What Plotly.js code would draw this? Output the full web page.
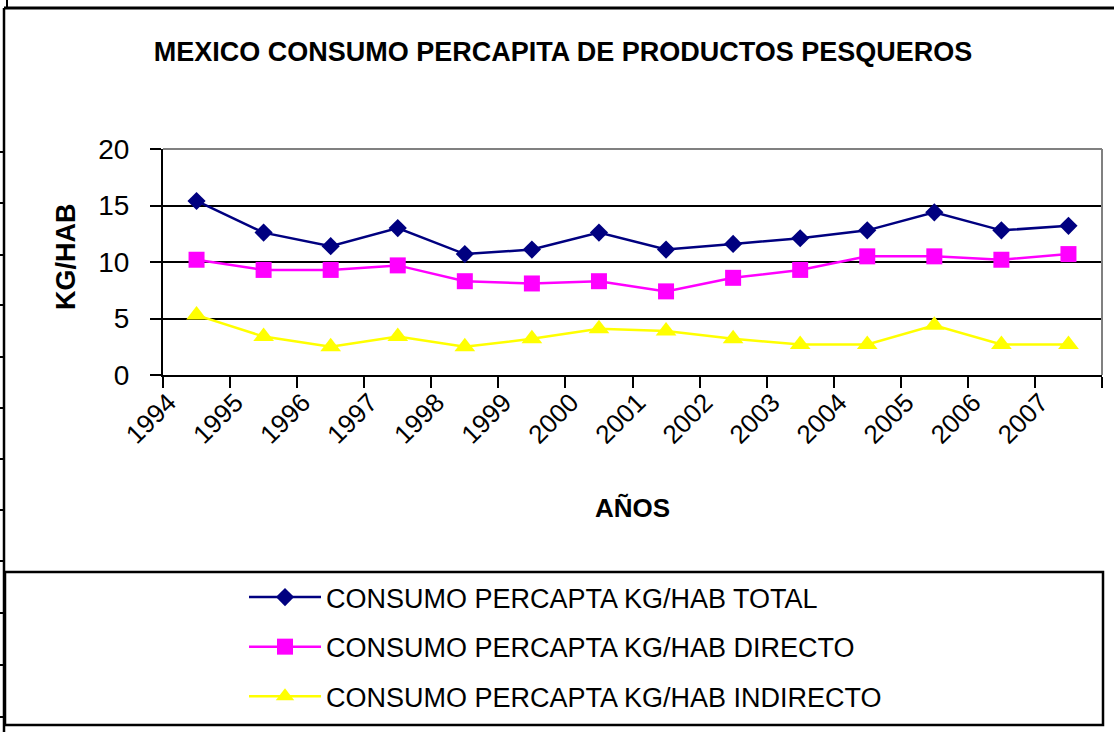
<!DOCTYPE html>
<html>
<head>
<meta charset="utf-8">
<script src="https://cdn.plot.ly/plotly-3.0.1.min.js"></script>
<style>html,body{margin:0;padding:0;background:#fff;}#chart{width:1114px;height:732px;}</style>
</head>
<body>
<div id="chart"></div>
<script>
const years = ['1994','1995','1996','1997','1998','1999','2000','2001','2002','2003','2004','2005','2006','2007'];
const total = [15.4, 12.6, 11.4, 13.0, 10.7, 11.1, 12.6, 11.1, 11.6, 12.1, 12.8, 14.4, 12.8, 13.2];
const directo = [10.2, 9.3, 9.3, 9.7, 8.3, 8.1, 8.3, 7.4, 8.6, 9.3, 10.5, 10.5, 10.2, 10.7];
const indirecto = [5.3, 3.4, 2.5, 3.4, 2.5, 3.2, 4.1, 3.9, 3.2, 2.7, 2.7, 4.4, 2.7, 2.7];
const yTicks = [0, 5, 10, 15, 20];
const seriesNames = ['CONSUMO PERCAPTA KG/HAB TOTAL', 'CONSUMO PERCAPTA KG/HAB DIRECTO', 'CONSUMO PERCAPTA KG/HAB INDIRECTO'];
const chartTitle = 'MEXICO CONSUMO PERCAPITA DE PRODUCTOS PESQUEROS';
const xTitle = 'AÑOS';
const yTitle = 'KG/HAB';

const FONT = 'Liberation Sans, Arial, sans-serif';

const traces = [
  {x: years, y: total, name: seriesNames[0], legendgroup: 'a', type: 'scatter', mode: 'lines+markers',
   line: {color: '#000080', width: 2.5}, marker: {symbol: 'diamond', size: 14, color: '#000080'}},
  {x: years, y: directo, name: seriesNames[1], legendgroup: 'b', type: 'scatter', mode: 'lines+markers',
   line: {color: '#FF00FF', width: 2.5}, marker: {symbol: 'square', size: 16, color: '#FF00FF'}},
  {x: years, y: indirecto, name: seriesNames[2], legendgroup: 'c', type: 'scatter', mode: 'lines+markers',
   line: {color: '#FFFF00', width: 2.5}, marker: {symbol: 'triangle-up', size: 18, color: '#FFFF00'}}
];

// plot area: x 163..1102, y 149..375
const L = 163, R = 1102, T = 149, B = 375;
const W = R - L, H = B - T;
const px = v => (v - L) / W;
const py = v => (B - v) / H;

const shapes = [
  {type: 'line', xref: 'paper', yref: 'paper', x0: 0, x1: 1, y0: 1, y1: 1, line: {color: '#808080', width: 2}},
  {type: 'line', xref: 'paper', yref: 'paper', x0: 1, x1: 1, y0: 0, y1: 1, line: {color: '#808080', width: 2}},
  {type: 'line', xref: 'paper', yref: 'paper', x0: px(4), x1: px(1114), y0: py(8), y1: py(8), line: {color: '#000', width: 3}},
  {type: 'line', xref: 'paper', yref: 'paper', x0: px(4), x1: px(4), y0: py(8), y1: py(732), line: {color: '#000', width: 2.5}},
  {type: 'line', xref: 'paper', yref: 'paper', x0: px(7), x1: px(7), y0: py(0), y1: py(8), line: {color: '#000', width: 2}},
  {type: 'rect', xref: 'paper', yref: 'paper', x0: px(5), x1: px(1103), y0: py(725), y1: py(572), line: {color: '#000', width: 2.5}, fillcolor: 'rgba(0,0,0,0)'}
];
[152, 203, 255, 305, 357, 408, 459, 510, 561, 613, 665, 717].forEach(v => {
  shapes.push({type: 'line', xref: 'paper', yref: 'paper', x0: px(0), x1: px(4), y0: py(v), y1: py(v), line: {color: '#000', width: 2}});
});

const layout = {
  width: 1114, height: 732,
  margin: {l: L, r: 1114 - R, t: T, b: 732 - B, pad: 0, autoexpand: false},
  paper_bgcolor: '#fff', plot_bgcolor: '#fff',
  font: {family: FONT, color: '#000'},
  title: {text: chartTitle, font: {family: FONT, size: 27, weight: 'bold', color: '#000'},
          x: 563 / 1114, xanchor: 'center', xref: 'container', y: 1 - 52 / 732, yanchor: 'middle', yref: 'container'},
  xaxis: {
    type: 'category', range: [-0.5, 13.5], fixedrange: true,
    tickson: 'boundaries', ticks: 'outside', ticklen: 11, tickwidth: 2, tickcolor: '#000',
    showline: true, linecolor: '#000', linewidth: 2, showgrid: false, zeroline: false,
    tickangle: -45, ticklabelshift: -28,
    tickfont: {family: FONT, size: 26, color: '#000'},
    title: {text: xTitle, font: {family: FONT, size: 26, weight: 'bold', color: '#000'}, standoff: 50}
  },
  yaxis: {
    range: [0, 20], tickvals: yTicks, ticktext: yTicks.map(String), fixedrange: true,
    ticks: 'outside', ticklen: 11, tickwidth: 2, tickcolor: '#000', ticklabelstandoff: 15,
    showline: true, linecolor: '#000', linewidth: 2,
    showgrid: true, gridcolor: '#000', gridwidth: 2, zeroline: false,
    tickfont: {family: FONT, size: 28, color: '#000'}
  },
  annotations: [
    {text: yTitle, xref: 'paper', yref: 'paper', x: px(66), y: py(257), xanchor: 'center', yanchor: 'middle',
     textangle: -90, showarrow: false, font: {family: FONT, size: 27, weight: 'bold', color: '#000'}}
  ],
  showlegend: true,
  legend: {
    xref: 'container', yref: 'container',
    x: 244 / 1114, xanchor: 'left', y: 1 - 573 / 732, yanchor: 'top',
    orientation: 'v', itemwidth: 72, tracegroupgap: 11.5,
    font: {family: FONT, size: 27, color: '#000'},
    bgcolor: 'rgba(0,0,0,0)', borderwidth: 0, itemclick: false, itemdoubleclick: false
  },
  shapes: shapes
};

Plotly.newPlot('chart', traces, layout, {displayModeBar: false, staticPlot: true});
</script>
</body>
</html>
